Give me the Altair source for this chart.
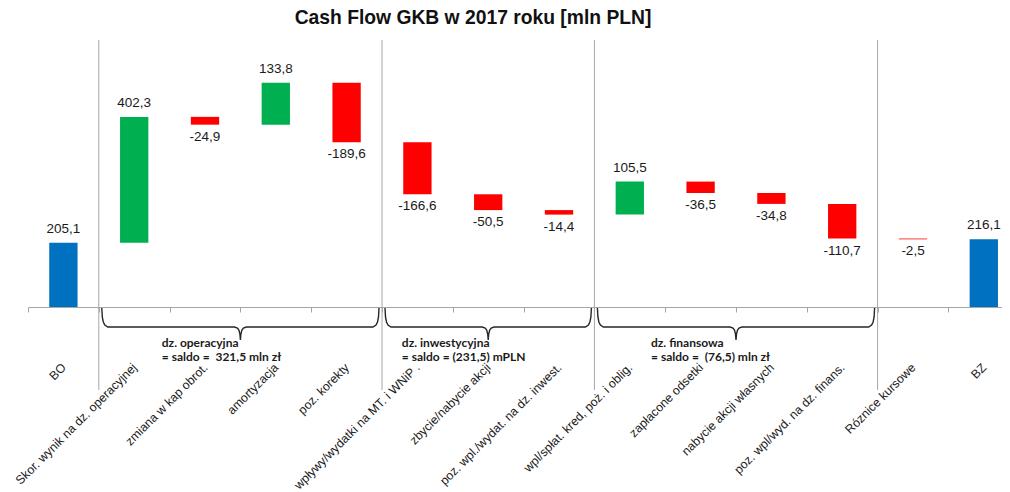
import altair as alt
import pandas as pd

# ---------------- data ----------------
categories = [
    "BO",
    "Skor. wynik na dz. operacyjnej",
    "zmiana w kap obrot.",
    "amortyzacja",
    "poz. korekty",
    "wpływy/wydatki na MT. i WNiP .",
    "zbycie/nabycie akcji",
    "poz. wpl./wydat. na dz. inwest.",
    "wpl/spłat. kred, poż. i oblig.",
    "zapłacone odsetki",
    "nabycie akcji własnych",
    "poz. wpl/wyd. na dz. finans.",
    "Róznice kursowe",
    "BZ",
]
values = [205.1, 402.3, -24.9, 133.8, -189.6, -166.6, -50.5, -14.4,
          105.5, -36.5, -34.8, -110.7, -2.5, 216.1]
totals = ["BO", "BZ"]

# group braces: first index, end index (exclusive), label lines
group_start = [1, 5, 8]
group_end = [5, 8, 12]
group_line1 = ["dz. operacyjna", "dz. inwestycyjna", "dz. finansowa"]
group_line2 = ["= saldo =\u00a0 321,5 mln zł", "= saldo = (231,5) mPLN", "= saldo =\u00a0 (76,5) mln zł"]
group_label_pos = [1.89, 5.28, 8.80]

separator_after = ["Skor. wynik na dz. operacyjnej", "wpływy/wydatki na MT. i WNiP .",
                   "wpl/spłat. kred, poż. i oblig.", "Róznice kursowe"]

# ---------------- build tables ----------------
rows = []
running = 0.0
for c, v in zip(categories, values):
    if c in totals:
        start, end, kind = 0.0, v, "total"
        running = v if c == "BO" else running
    else:
        start, end = running, running + v
        kind = "pos" if v >= 0 else "neg"
        running = end
    rows.append({
        "cat": c, "value": v, "start": start, "end": end,
        "top": max(start, end), "bottom": min(start, end),
        "kind": kind, "label": f"{v:.1f}".replace(".", ","),
    })
df = pd.DataFrame(rows)

sep_df = pd.DataFrame({"cat": separator_after})

BAND_PX = 70.8
N = len(categories)
RANGE_PX = BAND_PX * N


def brace_points(s, e):
    # shape offsets (px) along x, y in brace units (0 top .. 32 tip)
    left = [(3, 0), (3.5, 9), (4.5, 14), (6, 17), (9, 19)]
    c = (s + e) / 2 * BAND_PX
    xs, xe = s * BAND_PX, e * BAND_PX
    pts = [(xs + dx, dy) for dx, dy in left]
    mid = [(-6, 19), (-3, 20), (-1.5, 22), (-0.5, 26), (0, 32)]
    pts += [(c + dx, dy) for dx, dy in mid]
    pts += [(c - dx, dy) for dx, dy in reversed(mid[:-1])]
    pts += [(xe - dx, dy) for dx, dy in reversed(left)]
    return [(x / BAND_PX, y) for x, y in pts]


brace_rows = []
for g, (s, e) in enumerate(zip(group_start, group_end)):
    for i, (x, y) in enumerate(brace_points(s, e)):
        brace_rows.append({"g": g, "o": i, "x": x, "y": y})
brace_df = pd.DataFrame(brace_rows)

glabel_rows = []
for g in range(len(group_start)):
    glabel_rows.append({"x": group_label_pos[g], "y": 35, "t": group_line1[g]})
    glabel_rows.append({"x": group_label_pos[g], "y": 49, "t": group_line2[g]})
glabel_df = pd.DataFrame(glabel_rows)

# ---------------- scales ----------------
xscale = alt.Scale(domain=categories, range=[0, RANGE_PX], paddingInner=0, paddingOuter=0)
yscale = alt.Scale(domain=[0, 853], nice=False, zero=False)

x_axis = alt.Axis(
    title=None, labelAngle=-45, labelAlign="right", labelBaseline="middle",
    labelPadding=53, tickBand="extent", tickSize=5, tickColor="#A6A6A6",
    domainColor="#A6A6A6", labelFont="Liberation Sans", labelFontSize=12.3,
    labelColor="#1a1a1a", labelLimit=400, labelOverlap=False, grid=False,
)

X = alt.X("cat:N", scale=xscale, axis=x_axis, sort=categories)
Y_AX = alt.Axis(labels=False, ticks=False, domain=False, grid=False, title=None)

base = alt.Chart(df)

bars = base.mark_bar(width=alt.RelativeBandSize(0.4)).encode(
    x=X,
    y=alt.Y("start:Q", scale=yscale, axis=Y_AX),
    y2="end:Q",
    color=alt.Color("kind:N", scale=alt.Scale(domain=["total", "pos", "neg"],
                                              range=["#0070C0", "#00B050", "#FF0000"]),
                    legend=None),
)

lab_up = base.transform_filter("datum.kind != 'neg'").mark_text(
    baseline="bottom", dy=-7, font="Liberation Sans", fontSize=13.5, color="#1a1a1a"
).encode(x=X, y=alt.Y("top:Q", scale=yscale, axis=Y_AX), text="label:N")

lab_dn = base.transform_filter("datum.kind == 'neg'").mark_text(
    baseline="top", dy=5, font="Liberation Sans", fontSize=13.5, color="#1a1a1a"
).encode(x=X, y=alt.Y("bottom:Q", scale=yscale, axis=Y_AX), text="label:N")

seps = alt.Chart(sep_df).mark_rule(color="#A6A6A6", strokeWidth=1).encode(
    x=alt.X("cat:N", scale=xscale, axis=x_axis, sort=categories, bandPosition=0),
    y=alt.value(0), y2=alt.value(350),
)

main = alt.layer(bars, lab_up, lab_dn, seps)

bx = alt.Scale(domain=[0, N], range=[0, RANGE_PX], nice=False, zero=False)
by = alt.Scale(domain=[0, 32], range=[268, 300], nice=False, zero=False)

braces = alt.Chart(brace_df).mark_line(color="#262626", strokeWidth=1.4).encode(
    x=alt.X("x:Q", scale=bx, axis=None),
    y=alt.Y("y:Q", scale=by, axis=None),
    detail="g:N", order="o:Q",
)

blabels = alt.Chart(glabel_df).mark_text(
    align="left", baseline="middle", font="Lato", fontWeight="bold",
    fontSize=12, color="#1a1a1a"
).encode(
    x=alt.X("x:Q", scale=bx, axis=None),
    y=alt.Y("y:Q", scale=by, axis=None),
    text="t:N",
)

annot = alt.layer(braces, blabels)

chart = alt.layer(main, annot).resolve_scale(x="independent", y="independent").properties(
    width=974, height=267,
    title=alt.Title("Cash Flow GKB w 2017 roku [mln PLN]", font="Liberation Sans",
                    fontSize=19.3, fontWeight="bold", color="#111111",
                    anchor="middle", dx=-42, offset=11),
    autosize=alt.AutoSizeParams(type="none"),
    padding={"left": 20, "top": 32, "right": 0, "bottom": 184},
).configure_view(stroke=None)

chart.save("out.html", embed_options={"renderer": "svg", "actions": False})
